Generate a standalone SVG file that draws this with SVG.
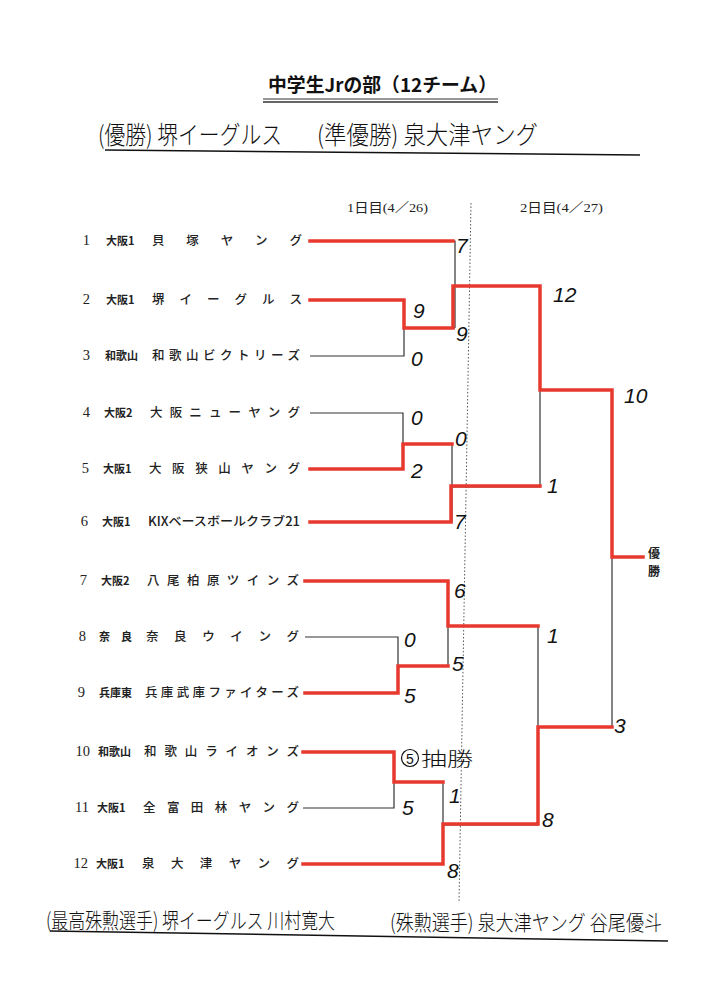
<svg xmlns="http://www.w3.org/2000/svg" width="708" height="1000" viewBox="0 0 708 1000">
<style>
.num{font-family:"Liberation Serif","Noto Sans CJK JP",serif;font-size:14.5px;text-anchor:end;fill:#222}
.pref{font-family:"Noto Sans CJK JP",sans-serif;font-size:11px;font-weight:700;fill:#222}
.team{font-family:"Noto Sans CJK JP",sans-serif;font-size:12.5px;font-weight:500;fill:#222}
.hdr{font-family:"Liberation Serif","Noto Sans CJK JP",serif;font-size:13px;fill:#222}
.red{fill:none;stroke:#e8392e;stroke-width:3.5;stroke-linejoin:miter;stroke-linecap:square}
.blk{fill:none;stroke:#333;stroke-width:1.2}
.hand{font-family:"Noto Sans CJK JP",sans-serif;font-weight:300;fill:#111}
.score{font-family:"Liberation Sans","DejaVu Sans",sans-serif;font-style:italic;font-size:21px;fill:#111}
.line{stroke:#111;stroke-width:1.5}
</style>
<rect width="708" height="1000" fill="#fff"/>

<g id="title">
<text x="268" y="92" font-family="Noto Sans CJK JP, sans-serif" font-weight="700" font-size="19" textLength="229" lengthAdjust="spacingAndGlyphs" fill="#111">中学生Jrの部（12チーム）</text>
<line x1="263" y1="99" x2="498" y2="99" stroke="#333" stroke-width="1"/>
<line x1="263" y1="102" x2="498" y2="102" stroke="#333" stroke-width="1.3"/>
</g>

<g id="results">
<text class="hand" x="98" y="144" font-size="25" textLength="184" lengthAdjust="spacingAndGlyphs">(優勝) 堺イーグルス</text>
<text class="hand" x="317" y="144" font-size="25" textLength="221" lengthAdjust="spacingAndGlyphs">(準優勝) 泉大津ヤング</text>
<line class="line" x1="105" y1="150" x2="640" y2="155"/>
</g>

<g id="headers">
<text class="hdr" x="347" y="212" textLength="81" lengthAdjust="spacingAndGlyphs">1日目(4／26)</text>
<text class="hdr" x="520" y="212" textLength="83" lengthAdjust="spacingAndGlyphs">2日目(4／27)</text>
<line x1="471" y1="203" x2="459" y2="903" stroke="#555" stroke-width="1" stroke-dasharray="1.5 2"/>
</g>

<g id="team1"><text class="num" x="90" y="245">1</text><text class="pref" x="106" y="245">大阪1</text><text class="team" x="152" y="245" textLength="150" lengthAdjust="spacing">貝塚ヤング</text></g>
<g id="team2"><text class="num" x="90" y="304">2</text><text class="pref" x="106" y="304">大阪1</text><text class="team" x="152" y="304" textLength="150" lengthAdjust="spacing">堺イーグルス</text></g>
<g id="team3"><text class="num" x="90" y="360">3</text><text class="pref" x="105" y="360">和歌山</text><text class="team" x="152" y="360" textLength="148" lengthAdjust="spacing">和歌山ビクトリーズ</text></g>
<g id="team4"><text class="num" x="90" y="417">4</text><text class="pref" x="104" y="417">大阪2</text><text class="team" x="150" y="417" textLength="150" lengthAdjust="spacing">大阪ニューヤング</text></g>
<g id="team5"><text class="num" x="89" y="473">5</text><text class="pref" x="103" y="473">大阪1</text><text class="team" x="149" y="473" textLength="151" lengthAdjust="spacing">大阪狭山ヤング</text></g>
<g id="team6"><text class="num" x="88" y="526">6</text><text class="pref" x="102" y="526">大阪1</text><text class="team" x="148" y="526" textLength="152" lengthAdjust="spacingAndGlyphs">KIXベースボールクラブ21</text></g>
<g id="team7"><text class="num" x="87" y="585">7</text><text class="pref" x="101" y="585">大阪2</text><text class="team" x="147" y="585" textLength="152" lengthAdjust="spacing">八尾柏原ツインズ</text></g>
<g id="team8"><text class="num" x="86" y="641">8</text><text class="pref" x="99" y="641" textLength="33" lengthAdjust="spacing">奈良</text><text class="team" x="146" y="641" textLength="153" lengthAdjust="spacing">奈良ウイング</text></g>
<g id="team9"><text class="num" x="85" y="697">9</text><text class="pref" x="99" y="697">兵庫東</text><text class="team" x="145" y="697" textLength="154" lengthAdjust="spacing">兵庫武庫ファイターズ</text></g>
<g id="team10"><text class="num" x="90" y="756">10</text><text class="pref" x="98" y="756">和歌山</text><text class="team" x="144" y="756" textLength="155" lengthAdjust="spacing">和歌山ライオンズ</text></g>
<g id="team11"><text class="num" x="89" y="812">11</text><text class="pref" x="97" y="812">大阪1</text><text class="team" x="143" y="812" textLength="156" lengthAdjust="spacing">全富田林ヤング</text></g>
<g id="team12"><text class="num" x="88" y="868">12</text><text class="pref" x="96" y="868">大阪1</text><text class="team" x="142" y="868" textLength="157" lengthAdjust="spacing">泉大津ヤング</text></g>

<g id="connectors">
<g id="printed">
<path class="blk" d="M310,241 H455 V328 M310,300 H404 V356 H310 M404,328 H455 M455,286 H540 V487 H452"/>
<path class="blk" d="M310,413 H403 V469 H310 M403,444 H452 V522 H310"/>
<path class="blk" d="M305,581 H448 V666 M305,637 H398 V693 H305 M398,666 H448 M448,626 H538 V825 H443"/>
<path class="blk" d="M303,752 H394 V808 H303 M394,782 H443 V864 H303"/>
<path class="blk" d="M540,390 H612 V727 H538 M612,557 H643"/>
</g>
<g id="winners">
<path class="red" d="M310,241 H453"/>
<path class="red" d="M310,300 H404 V328 H453 V286 H540 V390 H612 V557 H643"/>
<path class="red" d="M310,469 H403 V444 H452"/>
<path class="red" d="M310,522 H451 V486 H540"/>
<path class="red" d="M305,581 H448 V626 H538"/>
<path class="red" d="M305,693 H398 V666 H448"/>
<path class="red" d="M303,752 H394 V782 H443"/>
<path class="red" d="M303,864 H443 V824 H538 V727 H612"/>
</g>
</g>

<g id="scores">
<text class="score" x="456" y="253">7</text>
<text class="score" x="413" y="318">9</text>
<text class="score" x="411" y="366">0</text>
<text class="score" x="456" y="341">9</text>
<text class="score" x="411" y="425" font-size="17">0</text>
<text class="score" x="411" y="478">2</text>
<text class="score" x="455" y="446" font-size="18">0</text>
<text class="score" x="454" y="529">7</text>
<text class="score" x="553" y="302">12</text>
<text class="score" x="547" y="493">1</text>
<text class="score" x="624" y="403">10</text>
<text class="score" x="454" y="598">6</text>
<text class="score" x="404" y="647">0</text>
<text class="score" x="452" y="671">5</text>
<text class="score" x="404" y="703">5</text>
<circle cx="410" cy="758" r="8.5" fill="none" stroke="#111" stroke-width="1.2"/>
<text x="410" y="763.5" text-anchor="middle" font-family="Liberation Sans, sans-serif" font-size="14" fill="#111">5</text>
<text class="hand" x="421" y="766" font-size="19" textLength="52" lengthAdjust="spacingAndGlyphs">抽勝</text>
<text class="score" x="449" y="803">1</text>
<text class="score" x="402" y="815">5</text>
<text class="score" x="447" y="878">8</text>
<text class="score" x="547" y="643">1</text>
<text class="score" x="614" y="733">3</text>
<text class="score" x="542" y="827">8</text>
</g>

<g id="champion">
<text x="648" y="558" font-family="Noto Sans CJK JP, sans-serif" font-weight="700" font-size="12" fill="#222">優</text>
<text x="648" y="576" font-family="Noto Sans CJK JP, sans-serif" font-weight="700" font-size="12" fill="#222">勝</text>
</g>

<g id="awards">
<text class="hand" x="46" y="928" font-size="21" textLength="289" lengthAdjust="spacingAndGlyphs">(最高殊勲選手) 堺イーグルス 川村寛大</text>
<text class="hand" x="390" y="930" font-size="21" textLength="272" lengthAdjust="spacingAndGlyphs">(殊勲選手) 泉大津ヤング 谷尾優斗</text>
<line class="line" x1="50" y1="931" x2="668" y2="941"/>
</g>
</svg>
